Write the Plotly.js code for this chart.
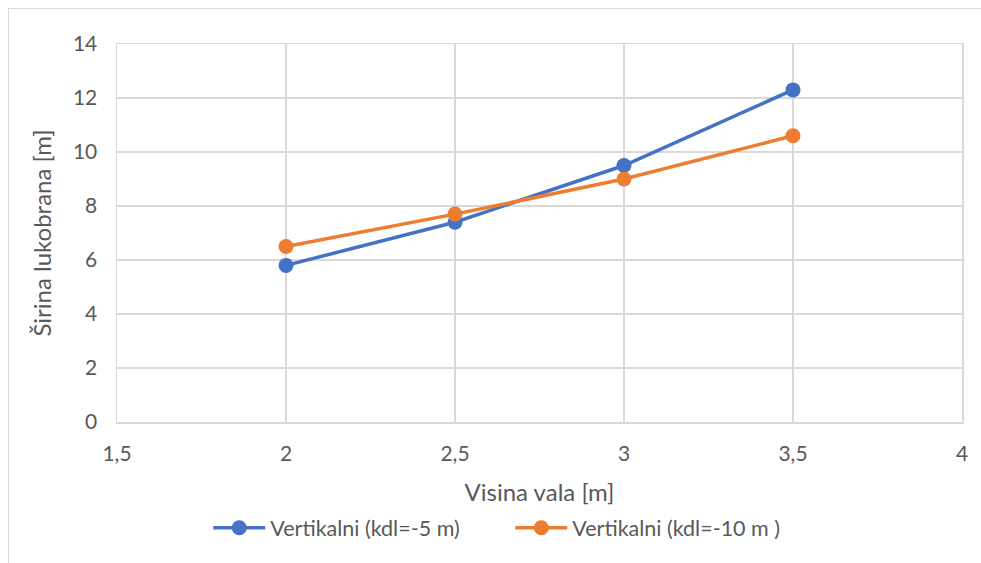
<!DOCTYPE html>
<html>
<head>
<meta charset="utf-8">
<script src="https://cdn.plot.ly/plotly-3.0.1.min.js"></script>
<style>
html,body{margin:0;padding:0;background:#fff;}
#wrap{position:absolute;left:0;top:0;width:981px;height:563px;}
#frame{position:absolute;left:8px;top:8px;width:980px;height:560px;border-left:1px solid #d9d9d9;border-top:1px solid #d9d9d9;pointer-events:none;}
#chart{width:981px;height:563px;}
</style>
</head>
<body>
<div id="wrap"><div id="chart"></div><div id="frame"></div></div>
<script>
const visina = [2, 2.5, 3, 3.5];
const kdl5 = [5.8, 7.4, 9.5, 12.3];
const kdl10 = [6.5, 7.7, 9.0, 10.6];
const seriesNames = ['Vertikalni (kdl=-5 m)', 'Vertikalni (kdl=-10 m )'];
const xTitle = 'Visina vala [m]';
const yTitle = 'Širina lukobrana [m]';

const font = 'Lato, "Open Sans", "Liberation Sans", sans-serif';
const traces = [
  {x: visina, y: kdl5, name: seriesNames[0], mode: 'lines+markers', type: 'scatter',
   line: {color: '#4472C4', width: 3.5}, marker: {color: '#4472C4', size: 15}},
  {x: visina, y: kdl10, name: seriesNames[1], mode: 'lines+markers', type: 'scatter',
   line: {color: '#ED7D31', width: 3.5}, marker: {color: '#ED7D31', size: 15}}
];
const layout = {
  width: 981, height: 563,
  margin: {l: 117, r: 19, t: 44, b: 141},
  separators: ', ',
  paper_bgcolor: 'rgba(0,0,0,0)', plot_bgcolor: '#fff',
  font: {family: font, color: '#595959', size: 21},
  showlegend: true,
  legend: {orientation: 'h', x: 0.108, xanchor: 'left', y: -0.28, yanchor: 'middle',
           entrywidth: 235, entrywidthmode: 'pixels',
           font: {size: 21.5, color: '#595959'}, itemwidth: 52},
  xaxis: {range: [1.5, 4], dtick: 0.5, tick0: 1.5, showgrid: true, gridcolor: '#d9d9d9', gridwidth: 1.5,
          zeroline: false, showline: true, mirror: true, linecolor: '#d9d9d9', linewidth: 1.5,
          ticks: '', ticklabelstandoff: 12, tickfont: {size: 21},
          title: {text: xTitle, font: {size: 24, color: '#595959'}, standoff: 20}},
  yaxis: {range: [0, 14], dtick: 2, showgrid: true, gridcolor: '#d9d9d9', gridwidth: 1.5,
          zeroline: false, showline: true, mirror: true, linecolor: '#d9d9d9', linewidth: 1.5,
          ticks: '', ticklabelstandoff: 14, tickfont: {size: 21},
          title: {text: yTitle, font: {size: 24, color: '#595959'}, standoff: 14}}
};
Plotly.newPlot('chart', traces, layout, {displayModeBar: false, staticPlot: true});
</script>
</body>
</html>
